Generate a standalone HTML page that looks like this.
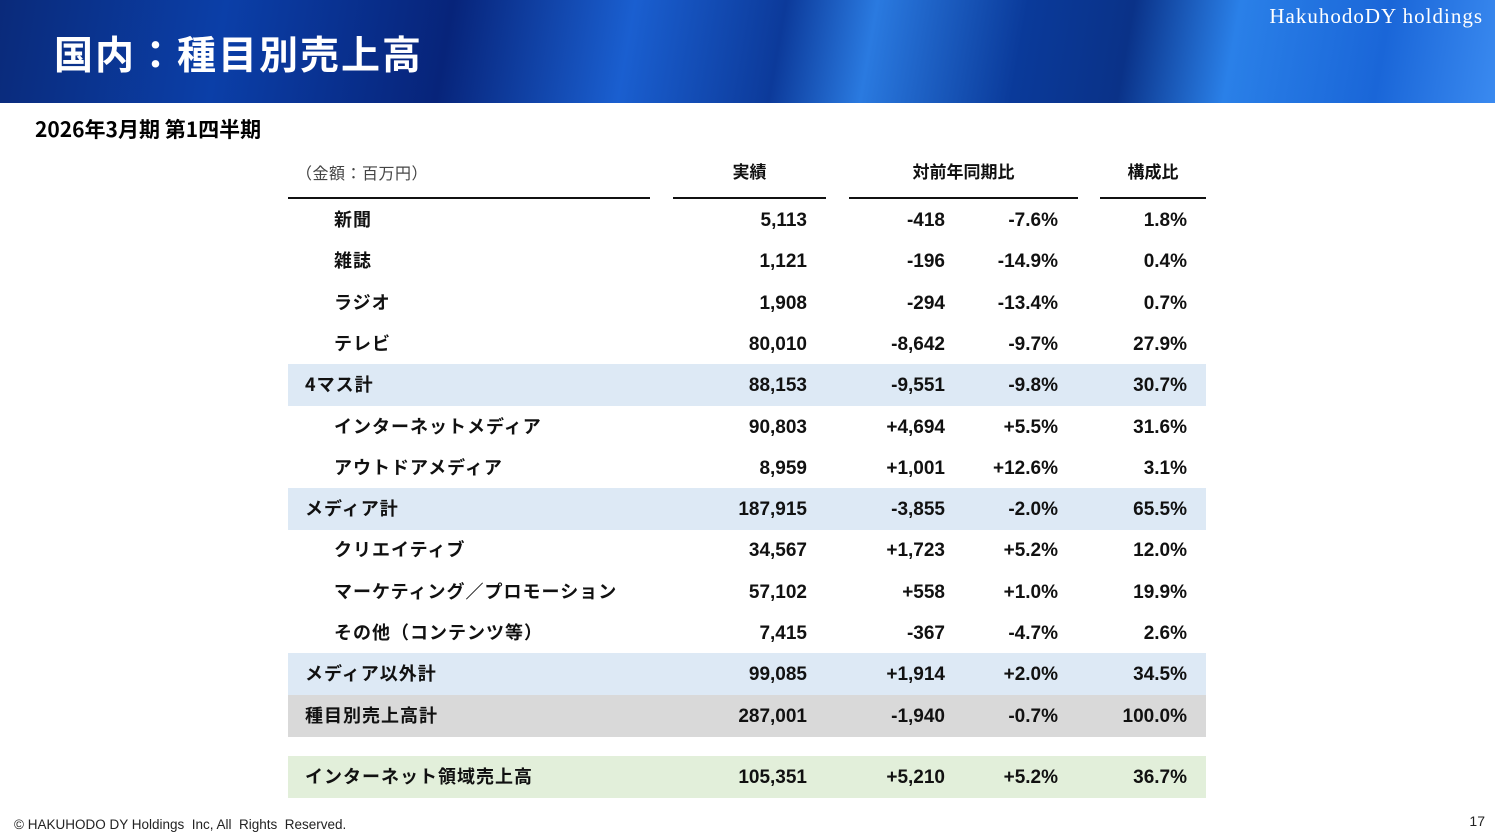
<!DOCTYPE html>
<html><head><meta charset="utf-8"><style>
body{margin:0;width:1495px;height:837px;position:relative;background:#fff;overflow:hidden;font-family:"Liberation Sans","Noto Sans CJK JP",sans-serif;}
.hdr{position:absolute;left:0;top:0;width:1495px;height:103px;background:linear-gradient(100deg,#0a2a7a 0%,#0b3fa8 15%,#07247a 30%,#1a5fd0 42%,#0c3a9a 52%,#2a7ae0 58%,#0a3a9a 68%,#0a3288 75%,#2a80e8 82%,#1a66d8 92%,#3a8af0 100%);}
.title{position:absolute;left:54px;top:28px;color:#fff;font-size:39px;font-weight:bold;font-family:"Noto Sans CJK JP",sans-serif;letter-spacing:2px;line-height:50px}
.logo{position:absolute;right:12px;top:4px;color:#fff;font-family:"Liberation Serif",serif;font-size:21px;letter-spacing:1px}
.sub{position:absolute;left:35px;top:114px;font-size:21px;font-weight:bold;font-family:"Noto Sans CJK JP",sans-serif}
.t{position:absolute;font-size:18px;font-weight:bold;color:#111;line-height:41px;white-space:nowrap}
.band{position:absolute;left:288px;width:918px}
.line{position:absolute;top:197px;height:2px;background:#111}
.foot{position:absolute;left:14px;top:817px;font-size:13.5px;color:#222}
.pg{position:absolute;right:10px;top:813px;font-size:14px;color:#222}
</style></head><body>
<div class="hdr"></div>
<div class="title">国内：種目別売上高</div>
<div class="logo">HakuhodoDY holdings</div>
<div class="sub">2026年3月期 第1四半期</div>
<div class="band" style="top:364px;height:42px;background:#dde9f5"></div>
<div class="band" style="top:488px;height:42px;background:#dde9f5"></div>
<div class="band" style="top:653px;height:42px;background:#dde9f5"></div>
<div class="band" style="top:695px;height:42px;background:#d9d9d9"></div>
<div class="band" style="top:756px;height:42px;background:#e2efda"></div>
<div class="t" style="left:296px;top:152px;font-weight:normal;font-size:16px;color:#444;font-family:'Noto Sans CJK JP',sans-serif;letter-spacing:0.5px">（金額：百万円）</div>
<div class="t" style="left:673px;width:153px;top:152px;text-align:center;font-size:17px">実績</div>
<div class="t" style="left:849px;width:229px;top:152px;text-align:center;font-size:17px">対前年同期比</div>
<div class="t" style="left:1100px;width:106px;top:152px;text-align:center;font-size:17px">構成比</div>
<div class="line" style="left:288px;width:362px"></div>
<div class="line" style="left:673px;width:153px"></div>
<div class="line" style="left:849px;width:229px"></div>
<div class="line" style="left:1100px;width:106px"></div>
<div class="foot">© HAKUHODO DY Holdings&nbsp; Inc, All&nbsp; Rights&nbsp; Reserved.</div>
<div class="pg">17</div>
<script>
const labels=["新聞","雑誌","ラジオ","テレビ","4マス計","インターネットメディア","アウトドアメディア","メディア計","クリエイティブ","マーケティング／プロモーション","その他（コンテンツ等）","メディア以外計","種目別売上高計","インターネット領域売上高"];
const isTotal=[0,0,0,0,1,0,0,1,0,0,0,1,1,1];
const actual=["5,113","1,121","1,908","80,010","88,153","90,803","8,959","187,915","34,567","57,102","7,415","99,085","287,001","105,351"];
const yoyAbs=["-418","-196","-294","-8,642","-9,551","+4,694","+1,001","-3,855","+1,723","+558","-367","+1,914","-1,940","+5,210"];
const yoyPct=["-7.6%","-14.9%","-13.4%","-9.7%","-9.8%","+5.5%","+12.6%","-2.0%","+5.2%","+1.0%","-4.7%","+2.0%","-0.7%","+5.2%"];
const share=["1.8%","0.4%","0.7%","27.9%","30.7%","31.6%","3.1%","65.5%","12.0%","19.9%","2.6%","34.5%","100.0%","36.7%"];
function rowTop(i){return i<13?199+i*41.3:756;}
function add(txt,style,name){const d=document.createElement('div');d.className='t';d.textContent=txt;d.style.cssText=style;


document.body.appendChild(d);}
labels.forEach((l,i)=>{const y=rowTop(i);
add(l,`left:${isTotal[i]?305:334}px;top:${y}px;font-family:"Noto Sans CJK JP",sans-serif;font-size:18px;letter-spacing:1px`,'row-label');
add(actual[i],`left:600px;width:207px;top:${y+1}px;text-align:right;font-size:19px`,'actual-value');
add(yoyAbs[i],`left:800px;width:145px;top:${y+1}px;text-align:right;font-size:19px`,'yoy-amount');
add(yoyPct[i],`left:950px;width:108px;top:${y+1}px;text-align:right;font-size:19px`,'yoy-percent');
add(share[i],`left:1080px;width:107px;top:${y+1}px;text-align:right;font-size:19px`,'share-value');});
</script>
</body></html>
